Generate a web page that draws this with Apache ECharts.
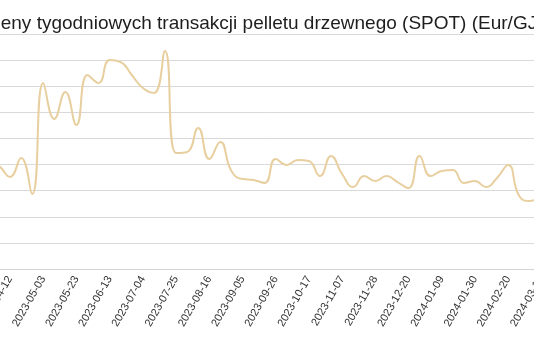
<!DOCTYPE html>
<html>
<head>
<meta charset="utf-8">
<script src="https://cdn.jsdelivr.net/npm/echarts@6/dist/echarts.min.js"></script>
<style>
html,body{margin:0;padding:0;width:534px;height:345px;overflow:hidden;background:#fff;}
#chart{position:absolute;left:-60px;top:0;width:680px;height:345px;}
</style>
</head>
<body>
<div id="chart"></div>
<script>
var titleText = 'Ceny tygodniowych transakcji pelletu drzewnego (SPOT) (Eur/GJ)';
var dates = [
  '2023-03-22','2023-03-29','2023-04-05','2023-04-12','2023-04-19','2023-04-26',
  '2023-05-03','2023-05-10','2023-05-17','2023-05-23','2023-05-31','2023-06-07',
  '2023-06-13','2023-06-20','2023-06-27','2023-07-04','2023-07-11','2023-07-18',
  '2023-07-25','2023-08-01','2023-08-08','2023-08-16','2023-08-22','2023-08-29',
  '2023-09-05','2023-09-12','2023-09-19','2023-09-26','2023-10-03','2023-10-10',
  '2023-10-17','2023-10-24','2023-10-31','2023-11-07','2023-11-14','2023-11-21',
  '2023-11-28','2023-12-05','2023-12-12','2023-12-20','2023-12-27','2024-01-02',
  '2024-01-09','2024-01-16','2024-01-23','2024-01-30','2024-02-06','2024-02-13',
  '2024-02-20','2024-02-27','2024-03-05','2024-03-12','2024-03-19'
];
var prices = [
  8.1, 8.3, 7.9, 7.05, 8.5, 5.74,
  14.25, 11.49, 13.56, 11.03, 14.86, 14.25,
  16.0, 15.85, 14.86, 13.86, 13.48, 16.7,
  8.88, 8.96, 10.8, 8.43, 9.73, 7.51,
  6.89, 6.82, 6.59, 8.43, 7.97, 8.35,
  8.27, 7.12, 8.66, 7.28, 6.28, 7.12,
  6.74, 7.12, 6.66, 6.2, 8.66, 7.12,
  7.51, 7.58, 6.59, 6.74, 6.28, 6.97,
  7.97, 5.59, 5.21, 5.59, 5.74
];
var yMin = 0, yMax = 18, yStep = 2;

var chart = echarts.init(document.getElementById('chart'), null, {renderer: 'canvas'});
chart.setOption({
  animation: false,
  title: {
    text: titleText,
    left: 42,
    top: 9,
    textStyle: {fontFamily: 'Liberation Sans', fontSize: 19, fontWeight: 'normal', color: '#1e1e1e'}
  },
  grid: {left: 36.8, right: 67.6, top: 34, bottom: 76, containLabel: false},
  xAxis: {
    type: 'category',
    data: dates,
    boundaryGap: false,
    axisLine: {lineStyle: {color: '#d4d4d4'}},
    axisTick: {show: false},
    axisLabel: {interval: 2, rotate: 60, fontSize: 11, color: '#333', fontFamily: 'Liberation Sans', margin: 8}
  },
  yAxis: {
    type: 'value',
    min: yMin, max: yMax, interval: yStep,
    axisLine: {show: false},
    axisTick: {show: false},
    axisLabel: {color: '#333'},
    splitLine: {lineStyle: {color: '#d9d9d9'}}
  },
  series: [{
    type: 'line',
    data: prices,
    smooth: true,
    showSymbol: false,
    lineStyle: {color: '#e8cf9f', width: 2}
  }]
});
</script>
</body>
</html>
